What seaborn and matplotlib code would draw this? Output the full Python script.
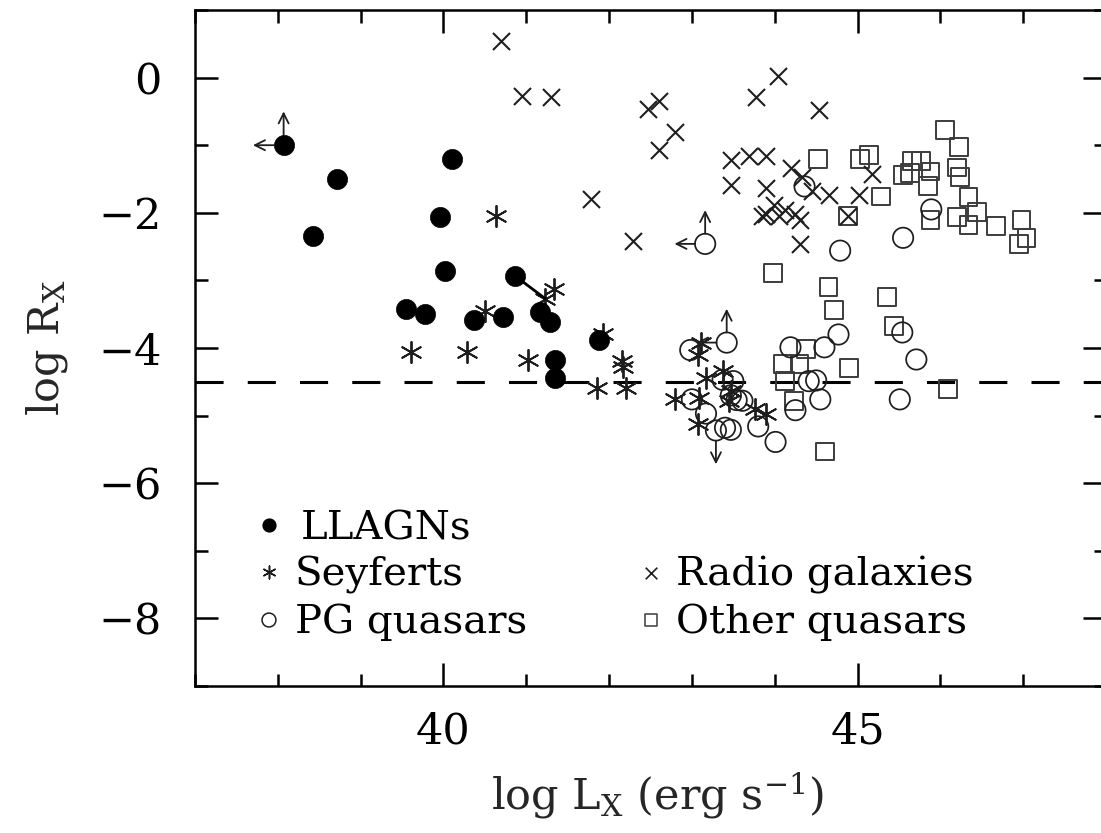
import numpy as np
import pandas as pd
import matplotlib
matplotlib.use("Agg")
import matplotlib.pyplot as plt
import seaborn as sns
from matplotlib.ticker import MultipleLocator

# ---------------- data (log L_X, log R_X) ----------------
llagn_x = [38.07, 38.72, 38.42, 40.10, 39.96, 40.02, 40.86, 39.55, 39.78, 40.37,
           40.72, 41.16, 41.29, 41.35, 41.35, 41.88]
llagn_y = [-1.00, -1.50, -2.34, -1.21, -2.06, -2.86, -2.93, -3.42, -3.49, -3.58,
           -3.54, -3.47, -3.62, -4.18, -4.44, -3.88]

seyfert_x = [40.63, 41.34, 41.23, 39.61, 40.28, 40.50, 41.02, 41.93, 41.86, 42.15,
             42.17, 42.21, 43.11, 43.07, 43.37, 43.17, 42.79, 43.09, 43.45, 43.07,
             43.47, 43.76, 43.90]
seyfert_y = [-2.04, -3.12, -3.27, -4.06, -4.06, -3.46, -4.18, -3.80, -4.59, -4.19,
             -4.28, -4.59, -3.92, -4.10, -4.34, -4.44, -4.76, -4.74, -4.79, -5.13,
             -4.64, -4.90, -4.98]

radio_x = [40.70, 40.95, 41.30, 41.78, 42.29, 42.47, 42.60, 42.79, 42.60, 43.77,
           44.04, 44.53, 43.47, 43.69, 43.89, 43.47, 43.89, 44.20, 44.33, 44.45,
           44.66, 45.02, 45.17, 44.88, 43.90, 43.99, 44.12, 44.24, 44.30, 43.85,
           44.30, 44.05]
radio_y = [0.54, -0.27, -0.29, -1.80, -2.41, -0.47, -0.35, -0.80, -1.07, -0.29,
           0.03, -0.48, -1.22, -1.16, -1.16, -1.59, -1.64, -1.34, -1.47, -1.68,
           -1.74, -1.74, -1.43, -2.04, -2.02, -1.89, -1.96, -2.02, -2.10, -2.05,
           -2.46, -2.05]

pg_x = [43.16, 44.36, 44.79, 45.55, 45.89, 43.42, 42.98, 44.19, 44.60, 44.77,
        45.54, 45.71, 45.51, 44.41, 44.50, 44.55, 44.25, 44.01, 43.80, 43.47,
        43.40, 43.29, 43.17, 43.00, 43.37, 43.50, 43.54, 43.61, 43.47]
pg_y = [-2.46, -1.61, -2.56, -2.37, -1.95, -3.92, -4.03, -3.99, -3.99, -3.80,
        -3.77, -4.17, -4.76, -4.49, -4.48, -4.76, -4.92, -5.39, -5.16, -5.21,
        -5.18, -5.22, -4.97, -4.76, -4.47, -4.49, -4.77, -4.78, -4.70]

other_x = [44.52, 45.03, 45.14, 45.28, 44.88, 46.06, 46.23, 45.66, 45.77, 45.55,
           45.63, 45.88, 45.85, 46.20, 46.24, 46.34, 46.44, 46.20, 46.34, 46.67,
           46.98, 47.04, 46.95, 45.88, 43.98, 44.65, 45.36, 44.72, 45.44, 44.38,
           44.10, 44.30, 44.90, 44.12, 44.23, 46.09, 44.61]
other_y = [-1.21, -1.21, -1.14, -1.76, -2.05, -0.77, -1.03, -1.23, -1.23, -1.44,
           -1.41, -1.39, -1.60, -1.33, -1.47, -1.77, -1.99, -2.06, -2.18, -2.20,
           -2.11, -2.37, -2.46, -2.11, -2.89, -3.10, -3.25, -3.44, -3.67, -4.01,
           -4.24, -4.24, -4.29, -4.49, -4.78, -4.61, -5.53]

# limits: (group, index into that group, direction)
limit_group = ["llagn", "llagn", "pg", "pg", "pg", "pg", "pg"]
limit_index = [0, 0, 0, 0, 5, 5, 21]
limit_dir = ["left", "up", "left", "up", "left", "up", "down"]

# linked pair (LLAGN index, Seyfert index)
link_llagn, link_seyfert = 6, 2

ref_level = -4.5

legend_labels = ["LLAGNs", "Seyferts", "PG quasars", "Radio galaxies", "Other quasars"]
x_ticks = [40, 45]
y_ticks = [0, -2, -4, -6, -8]

# ---------------- styling ----------------
sns.set_theme(style="ticks")
plt.rcParams.update({
    "font.family": ["DejaVu Serif"],
    "mathtext.fontset": "dejavuserif",
    "axes.linewidth": 1.8,
    "axes.edgecolor": "black",
    "text.color": "black",
    "xtick.color": "black",
    "ytick.color": "black",
})

fig = plt.figure(figsize=(11.01, 8.33), dpi=100)
fig.patch.set_facecolor("white")
ax = fig.add_axes([195 / 1101, 147 / 833, 911 / 1101, 676 / 833])
ax.set_facecolor("white")

ink = "#1e1e1e"
sns.scatterplot(x=other_x, y=other_y, marker="s", s=165, facecolor="none",
                edgecolor="#3c3c3c", linewidth=1.4, ax=ax, zorder=3)
sns.scatterplot(x=pg_x, y=pg_y, marker="o", s=215, facecolor="none",
                edgecolor=ink, linewidth=1.25, ax=ax, zorder=3)
sns.scatterplot(x=radio_x, y=radio_y, marker="x", s=150, color=ink,
                linewidth=1.5, ax=ax, zorder=4)
sns.scatterplot(x=seyfert_x, y=seyfert_y, marker=(6, 2, 0), s=230, color=ink,
                linewidth=1.35, ax=ax, zorder=4)
sns.scatterplot(x=llagn_x, y=llagn_y, marker="o", s=210, color="black",
                edgecolor="black", linewidth=0.5, ax=ax, zorder=5)

# link line
ax.plot([llagn_x[link_llagn], seyfert_x[link_seyfert]],
        [llagn_y[link_llagn], seyfert_y[link_seyfert]],
        color="black", lw=2.0, zorder=4)

# limit arrows
groups = {"llagn": (llagn_x, llagn_y, 7.2), "pg": (pg_x, pg_y, 7.3)}
dx_len, dy_len = 0.37, 0.50
vec = {"left": (-dx_len, 0), "up": (0, dy_len), "down": (0, -dy_len)}
for g, i, d in zip(limit_group, limit_index, limit_dir):
    gx, gy, rad = groups[g]
    x0, y0 = gx[i], gy[i]
    ddx, ddy = vec[d]
    ax.annotate("", xy=(x0 + ddx, y0 + ddy), xytext=(x0, y0),
                arrowprops=dict(arrowstyle="->", lw=1.3, color=ink,
                                shrinkA=rad, shrinkB=0, mutation_scale=18),
                zorder=4)

# dashed reference line
ax.axhline(ref_level, color="black", lw=2.2, dashes=(9.2, 7.9), zorder=2)

# axes
ax.set_xlim(37, 48)
ax.set_ylim(-9, 1)
ax.set_xticks(x_ticks)
ax.set_yticks(y_ticks)
ax.xaxis.set_minor_locator(MultipleLocator(1))
ax.yaxis.set_minor_locator(MultipleLocator(1))
ax.tick_params(which="both", direction="in", top=True, right=True, width=1.8)
ax.tick_params(which="major", length=16.5, labelsize=31)
ax.tick_params(which="minor", length=9)
ax.tick_params(axis="x", which="major", pad=18)
ax.tick_params(axis="y", which="major", pad=24)
for sp in ax.spines.values():
    sp.set_visible(True)
    sp.set_linewidth(1.8)

ax.set_xlabel(r"log L$_{\rm X}$ (erg s$^{-1}$)", fontsize=31)
ax.set_ylabel(r"log R$_{\rm X}$", fontsize=31)
ax.xaxis.set_label_coords(0.508, -0.124)
ax.yaxis.set_label_coords(-0.137, 0.5)

# legend (manual layout)
tr = ax.transAxes
leg_fs = 29
mk = dict(transform=tr, clip_on=False, zorder=6)
ax.scatter([0.0812], [0.2382], marker="o", s=85, color="black", **mk)
ax.scatter([0.0812], [0.1686], marker=(6, 2, 0), s=85, color=ink, linewidths=1.1, **mk)
ax.scatter([0.0812], [0.0976], marker="o", s=100, facecolor="none", edgecolor=ink, linewidths=1.1, **mk)
ax.scatter([0.5005], [0.1672], marker="x", s=70, color=ink, linewidths=1.2, **mk)
ax.scatter([0.5005], [0.0976], marker="s", s=75, facecolor="none", edgecolor="#3c3c3c", linewidths=1.1, **mk)
ax.text(0.1158, 0.216, legend_labels[0], transform=tr, fontsize=leg_fs, va="baseline")
ax.text(0.1098, 0.148, legend_labels[1], transform=tr, fontsize=leg_fs, va="baseline")
ax.text(0.1098, 0.0784, legend_labels[2], transform=tr, fontsize=leg_fs, va="baseline")
ax.text(0.5285, 0.148, legend_labels[3], transform=tr, fontsize=leg_fs, va="baseline")
ax.text(0.5285, 0.0784, legend_labels[4], transform=tr, fontsize=leg_fs, va="baseline")

fig.savefig("out.png", dpi=100, facecolor="white")
